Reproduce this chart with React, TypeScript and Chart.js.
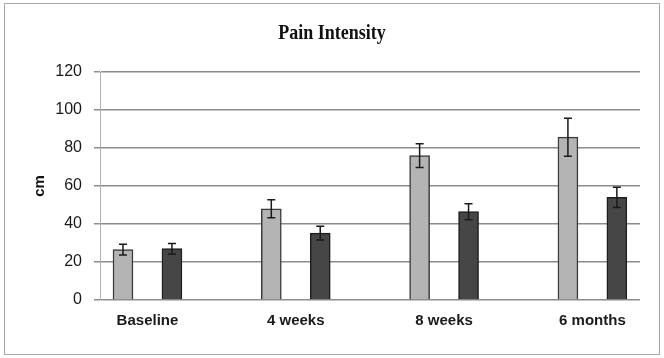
import React, { useEffect, useRef } from "react";
import { Chart, registerables } from "chart.js";

Chart.register(...registerables);

const categories = ["Baseline", "4 weeks", "8 weeks", "6 months"];
const groupA = [26.5, 48, 76, 85.7];
const groupAErr = [2.8, 4.7, 6.2, 10];
const groupB = [27, 35.2, 46.5, 54];
const groupBErr = [2.8, 3.6, 4.2, 5.3];
const yTickValues = [0, 20, 40, 60, 80, 100, 120];
const chartTitle = "Pain Intensity";
const yTitle = "cm";

const errorBarsPlugin = {
  id: "errorBars",
  afterDatasetsDraw(chart: any) {
    const ctx = chart.ctx;
    const yScale = chart.scales.y;
    chart.data.datasets.forEach((ds: any, di: number) => {
      const meta = chart.getDatasetMeta(di);
      meta.data.forEach((bar: any, i: number) => {
        const v = ds.data[i].y;
        const e = ds.errors[i];
        const top = yScale.getPixelForValue(v + e);
        const bot = yScale.getPixelForValue(v - e);
        ctx.save();
        ctx.strokeStyle = "#1a1a1a";
        ctx.lineWidth = 1.5;
        ctx.beginPath();
        ctx.moveTo(bar.x, top);
        ctx.lineTo(bar.x, bot);
        ctx.moveTo(bar.x - 4, top);
        ctx.lineTo(bar.x + 4, top);
        ctx.moveTo(bar.x - 4, bot);
        ctx.lineTo(bar.x + 4, bot);
        ctx.stroke();
        ctx.restore();
      });
    });
  },
};

const titlePlugin = {
  id: "customTitle",
  afterDraw(chart: any) {
    const ctx = chart.ctx;
    ctx.save();
    ctx.translate(332, 34);
    ctx.scale(0.9, 1);
    ctx.font = "bold 20px 'Liberation Serif', 'Times New Roman', serif";
    ctx.fillStyle = "#111";
    ctx.textAlign = "center";
    ctx.textBaseline = "middle";
    ctx.fillText(chartTitle, 0, 0);
    ctx.restore();
  },
};

export default function App() {
  const canvasRef = useRef<HTMLCanvasElement | null>(null);

  useEffect(() => {
    if (!canvasRef.current) return;
    const offset = 0.165;
    const chart = new Chart(canvasRef.current, {
      type: "bar",
      data: {
        datasets: [
          {
            label: "Group A",
            data: groupA.map((v, i) => ({ x: i - offset, y: v })),
            errors: groupAErr,
            backgroundColor: "#b4b4b4",
            borderColor: "#3a3a3a",
            borderWidth: 1.5,
            barThickness: 20,
            grouped: false,
          } as any,
          {
            label: "Group B",
            data: groupB.map((v, i) => ({ x: i + offset, y: v })),
            errors: groupBErr,
            backgroundColor: "#464646",
            borderColor: "#1e1e1e",
            borderWidth: 1.5,
            barThickness: 20,
            grouped: false,
          } as any,
        ],
      },
      options: {
        animation: false,
        responsive: false,
        layout: { padding: { left: 31, right: 24, top: 72, bottom: 0 } },
        plugins: {
          legend: { display: false },
          tooltip: { enabled: false },
          title: { display: false },
        },
        scales: {
          x: {
            type: "linear",
            min: -0.32,
            max: 3.321,
            offset: false,
            bounds: "data",
            afterBuildTicks: (scale: any) => {
              scale.ticks = categories.map((_, i) => ({ value: i }));
            },
            afterFit: (scale: any) => {
              scale.height = 58;
            },
            grid: { display: false, drawTicks: false, offset: false },
            border: { display: false },
            ticks: {
              padding: 12,
              color: "#1a1a1a",
              font: { family: "'Liberation Sans', Arial, sans-serif", size: 15, weight: "bold" },
              callback: (v: any) => categories[Math.round(Number(v))] ?? "",
            },
          },
          y: {
            type: "linear",
            min: 0,
            max: 120,
            afterBuildTicks: (scale: any) => {
              scale.ticks = yTickValues.map((v) => ({ value: v }));
            },
            afterFit: (scale: any) => {
              scale.width = 69;
            },
            grid: { color: "#8c8c8c", lineWidth: 1.5, tickLength: 6, drawTicks: true },
            border: { display: true, color: "#b0b0b0", width: 1 },
            ticks: {
              padding: 12,
              color: "#1a1a1a",
              font: { family: "'Liberation Sans', Arial, sans-serif", size: 16 },
            },
            title: {
              display: true,
              text: yTitle,
              color: "#111",
              padding: 0,
              font: { family: "'Liberation Sans', Arial, sans-serif", size: 15, weight: "bold" },
            },
          },
        },
      } as any,
      plugins: [errorBarsPlugin, titlePlugin],
    });
    return () => chart.destroy();
  }, []);

  return (
    <div style={{ position: "absolute", left: 0, top: 0, width: 664, height: 358, background: "#fff" }}>
      <div
        style={{
          position: "absolute",
          left: 4,
          top: 3,
          width: 654,
          height: 350,
          border: "1.5px solid #a8a8a8",
        }}
      />
      <canvas ref={canvasRef} width={664} height={358} style={{ position: "absolute", left: 0, top: 0 }} />
    </div>
  );
}
